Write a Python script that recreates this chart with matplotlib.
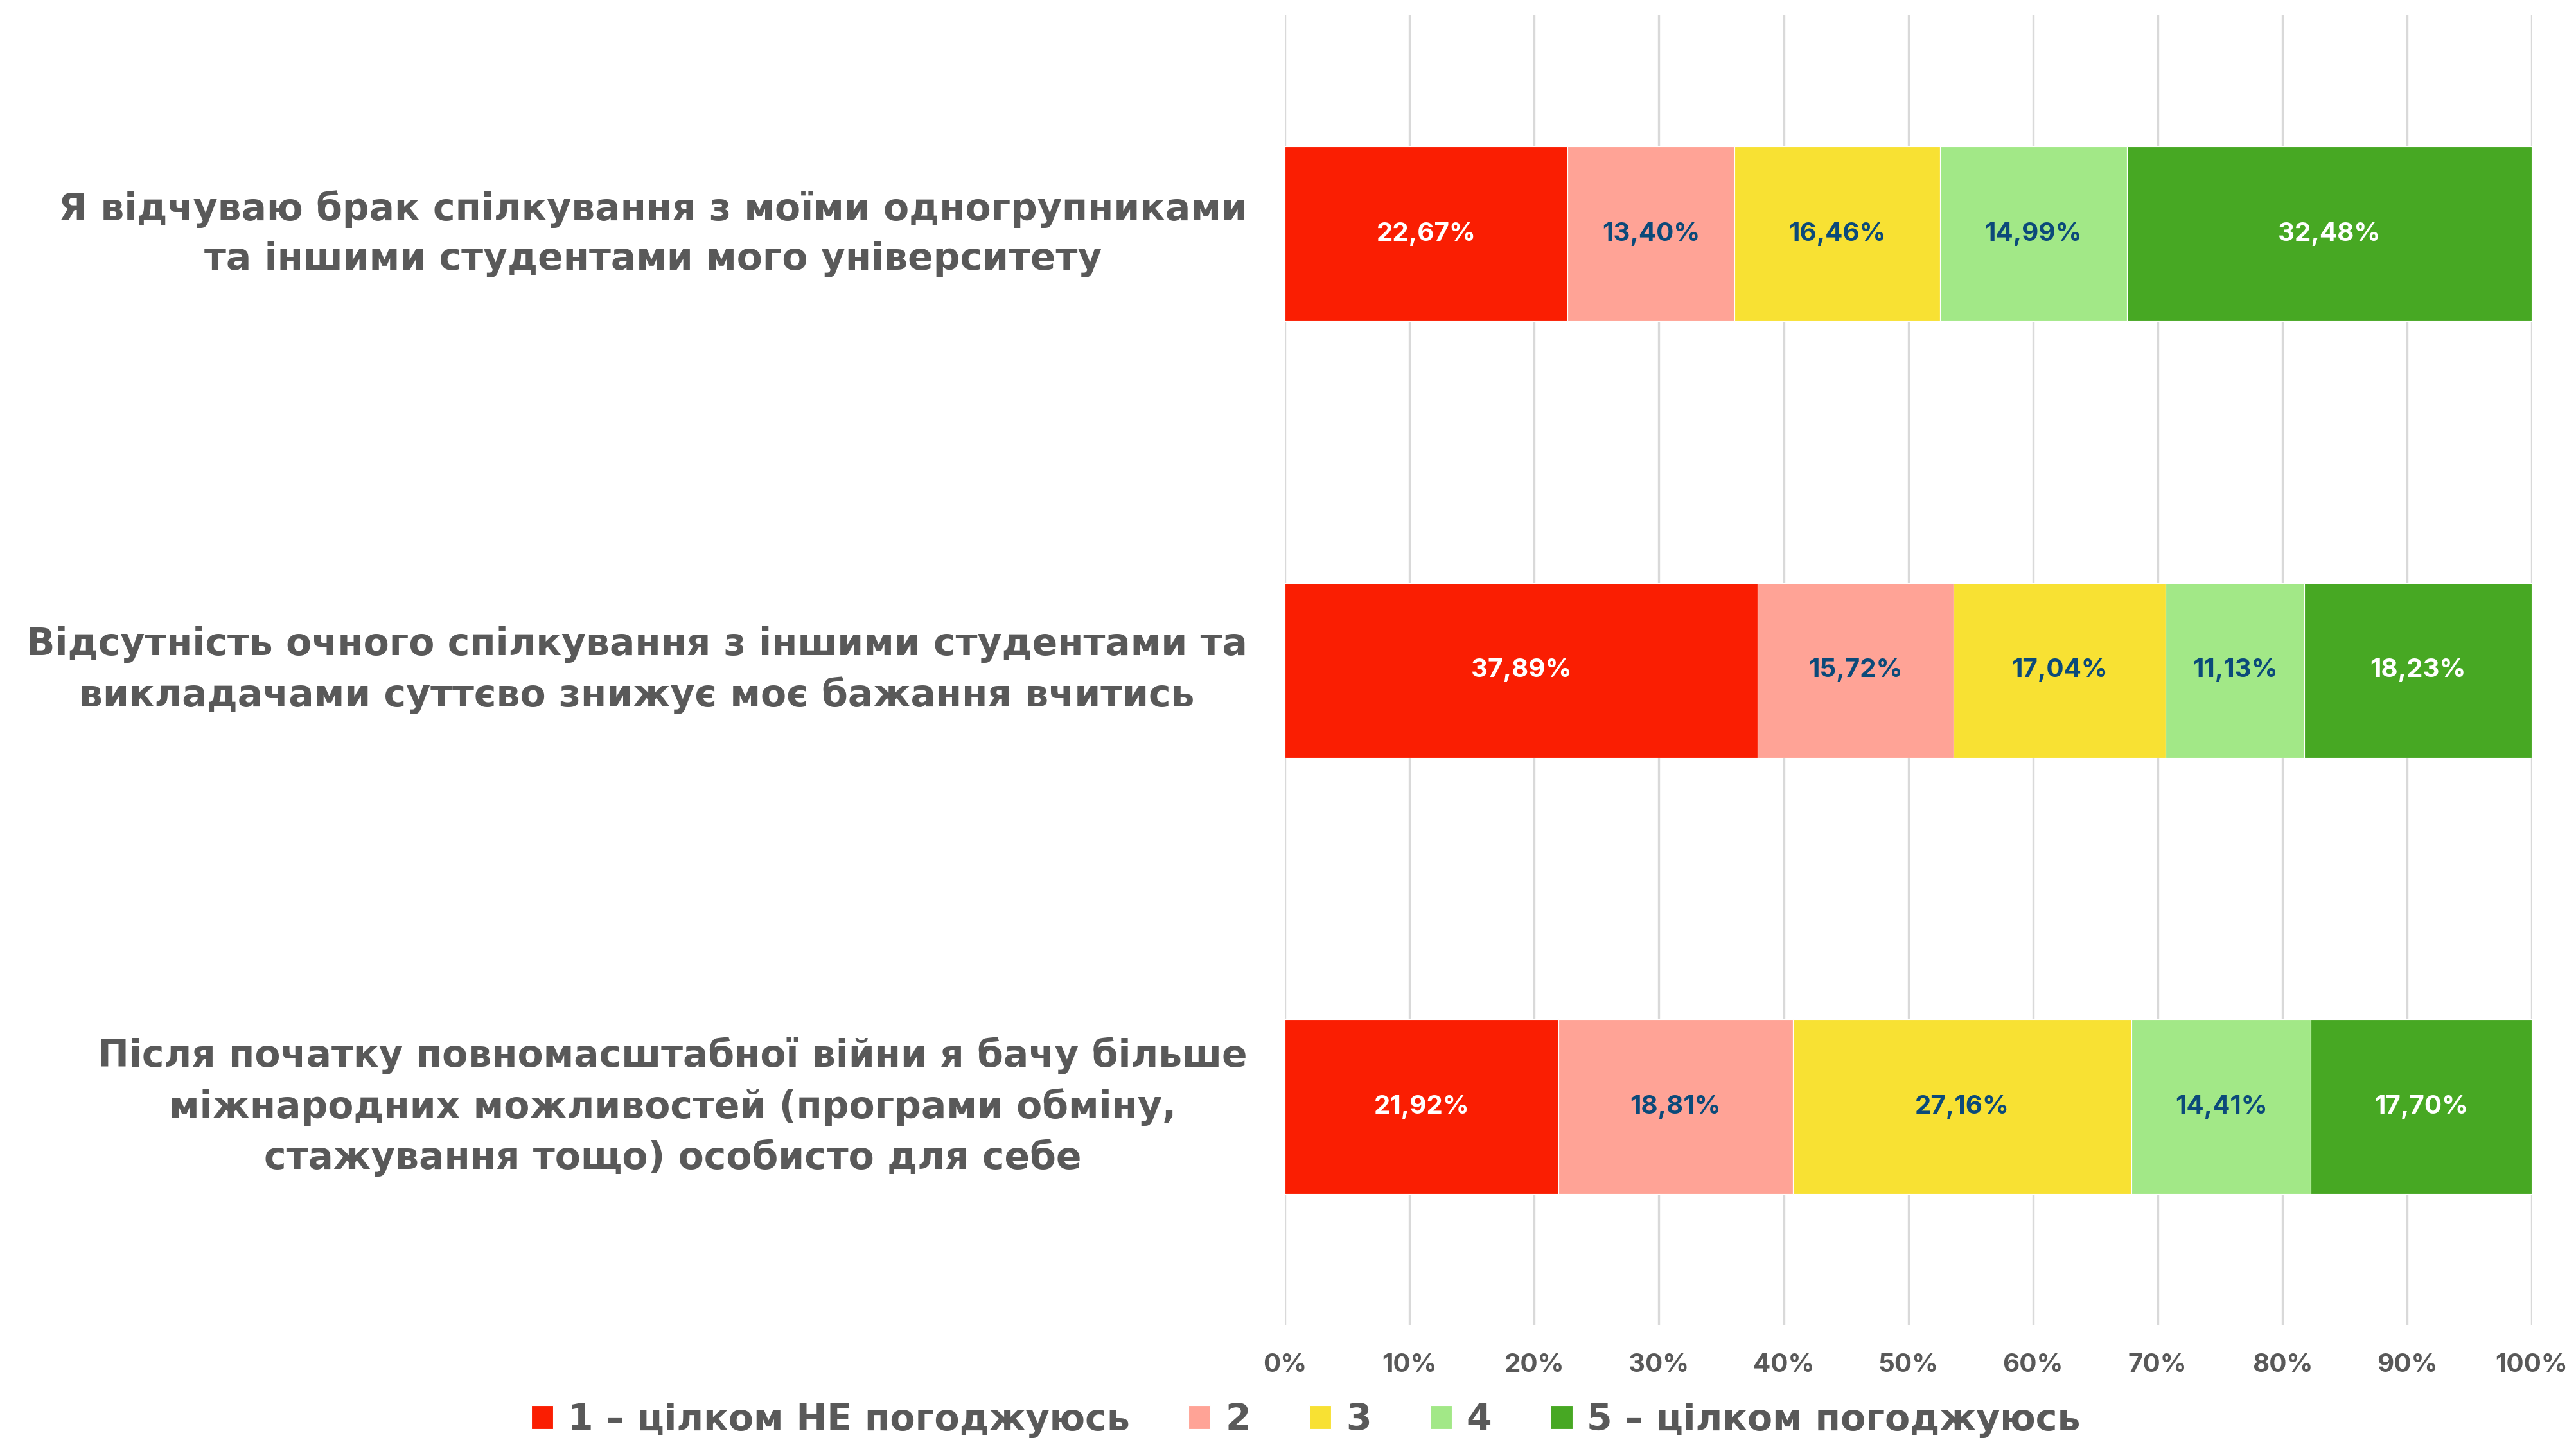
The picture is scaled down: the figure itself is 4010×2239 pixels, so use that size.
import matplotlib
matplotlib.use("Agg")
import matplotlib.pyplot as plt
import numpy as np
from matplotlib.ticker import PercentFormatter

plt.rcParams['font.family'] = ['Inter', 'DejaVu Sans']
plt.rcParams['font.weight'] = 'bold'

statements = [
    "Я відчуваю брак спілкування з моїми одногрупниками\nта іншими студентами мого університету",
    "Відсутність очного спілкування з іншими студентами та\nвикладачами суттєво знижує моє бажання вчитись",
    "Після початку повномасштабної війни я бачу більше\nміжнародних можливостей (програми обміну,\nстажування тощо) особисто для себе",
]
answers = ["1 – цілком НЕ погоджуюсь", "2", "3", "4", "5 – цілком погоджуюсь"]
share_1 = [22.67, 37.89, 21.92]
share_2 = [13.40, 15.72, 18.81]
share_3 = [16.46, 17.04, 27.16]
share_4 = [14.99, 11.13, 14.41]
share_5 = [32.48, 18.23, 17.70]

colors = ["#FA1E02", "#FFA396", "#F8E133", "#A2E887", "#47A823"]
label_colors = ["white", "#0B4A7A", "#0B4A7A", "#0B4A7A", "white"]
gray = "#595959"
wide = ["DejaVu Sans"]

fig = plt.figure(figsize=(20.05, 11.195), dpi=200)
ax = fig.add_axes([0.4988, 0.0786, 0.484, 0.9105])

y = np.arange(len(statements))
left = np.zeros(len(statements))
series = [share_1, share_2, share_3, share_4, share_5]
for vals, col, lcol, name in zip(series, colors, label_colors, answers):
    vals = np.array(vals)
    bars = ax.barh(y, vals, left=left, height=0.4, color=col, label=name,
                   edgecolor="white", linewidth=0.4, zorder=3)
    for b, v in zip(bars, vals):
        ax.text(b.get_x() + b.get_width() / 2, b.get_y() + b.get_height() / 2,
                f"{v:.2f}%".replace(".", ","), ha="center", va="center",
                color=lcol, fontsize=14.5, fontweight="bold", zorder=4)
    left += vals

ax.set_xlim(0, 100)
ax.set_ylim(len(statements) - 0.5, -0.5)
ax.set_xticks(np.arange(0, 101, 10))
ax.xaxis.set_major_formatter(PercentFormatter(decimals=0))
ax.set_yticks(y)
ax.set_yticklabels(statements, multialignment="center", fontsize=21,
                   color=gray, fontweight="bold", linespacing=1.45,
                   family=wide, va="center")
ax.tick_params(axis="y", length=0, pad=21)
ax.tick_params(axis="x", length=0, pad=16, labelsize=14.5, labelcolor=gray)
for lbl in ax.get_xticklabels():
    lbl.set_fontweight("bold")
ax.grid(axis="x", color="#D9D9D9", linewidth=1.2, zorder=0)
for s in ax.spines.values():
    s.set_visible(False)

leg = fig.legend(loc="center", bbox_to_anchor=(0.507, 0.0125), ncol=5,
                 frameon=False, prop={"family": wide, "size": 20.5, "weight": "bold"},
                 handlelength=0.6, handleheight=0.6,
                 handletextpad=0.4, columnspacing=1.6)
for t in leg.get_texts():
    t.set_color(gray)

fig.savefig("out.png", dpi=200)
